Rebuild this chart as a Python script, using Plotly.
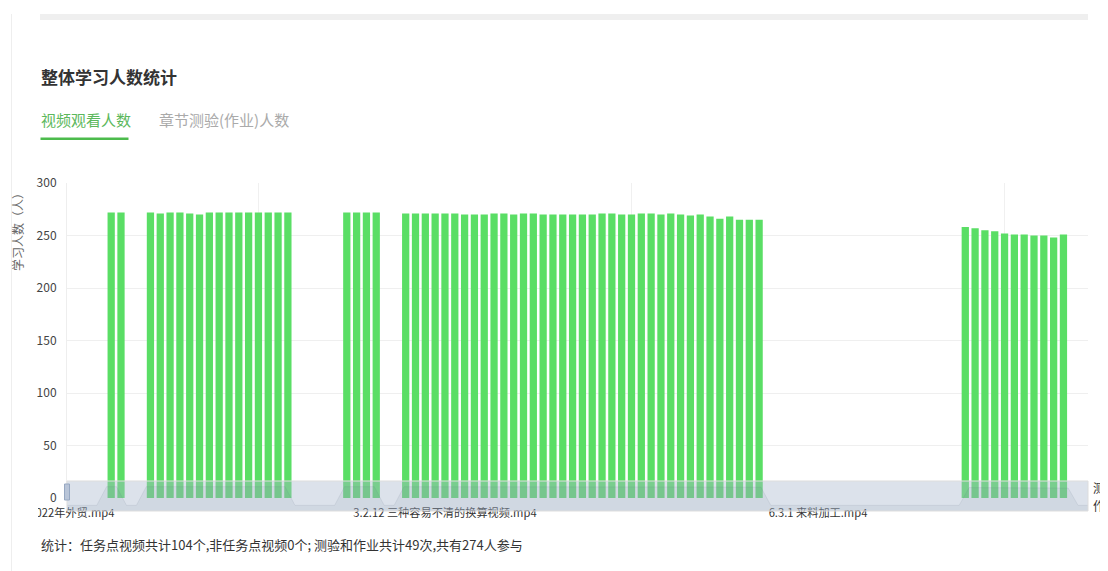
import plotly.graph_objects as go

# the page body adds an 8 px margin, so the figure is drawn 8 px smaller
# and every position below is given in window pixels
OFF = 8
W, H = 1108 - OFF, 571 - OFF


def fx(p):
    return (p - OFF) / W


def fy(p):
    return 1 - (p - OFF) / H


# ---------------- data ----------------
# number of learners who watched each task-point video (104 videos, in course order)
values = [
    0, 0, 0, 0,
    272, 272,
    0, 0,
    272, 271, 272, 272, 271, 270, 272, 272, 272, 272, 272, 272, 272, 272, 272,
    0, 0, 0, 0, 0,
    272, 272, 272, 272,
    0, 0,
    271, 271, 271, 271, 271, 271, 270, 270, 270, 271, 271, 270, 271, 271, 270,
    270, 270, 270, 270, 270, 271, 271, 270, 270, 271, 271, 270, 271, 270, 269,
    270, 268, 266, 268, 265, 265, 265,
    0, 0, 0, 0, 0, 0, 0, 0, 0, 0, 0, 0, 0, 0, 0, 0, 0, 0, 0, 0,
    258, 257, 255, 254, 252, 251, 251, 250, 250, 248, 251,
    0, 0,
]
video_pos = list(range(len(values)))

label_idx = [0, 38, 76]
label_text = ["2022年外贸.mp4", "3.2.12 三种容易不清的换算视频.mp4", "6.3.1 来料加工.mp4"]
grid_idx = [19, 57, 95]
y_ticks = [0, 50, 100, 150, 200, 250, 300]

FONT = "Noto Sans CJK SC"

# slider data-shadow extent (padded like the chart library does)
vmin, vmax = min(values), max(values)
pad = (vmax - vmin) * 0.3
shadow_lo, shadow_hi = vmin - pad, vmax + pad

fig = go.Figure()

fig.add_trace(go.Bar(
    x=video_pos, y=values,
    marker=dict(color="#5ade65", line=dict(width=0)),
    xaxis="x", yaxis="y",
    hoverinfo="x+y",
))

# data shadow inside the zoom slider
fig.add_trace(go.Scatter(
    x=[video_pos[0], video_pos[-1]], y=[shadow_lo, shadow_lo],
    mode="lines", line=dict(width=0, color="rgba(0,0,0,0)"),
    xaxis="x2", yaxis="y2", hoverinfo="skip", showlegend=False,
))
fig.add_trace(go.Scatter(
    x=video_pos, y=values,
    mode="lines", line=dict(width=0.5, color="rgba(47,69,84,0.25)"),
    fill="tonexty", fillcolor="rgba(47,69,84,0.09)",
    xaxis="x2", yaxis="y2", hoverinfo="skip", showlegend=False,
))

shapes = [
    # top light bar of the page
    dict(type="rect", xref="paper", yref="paper", x0=fx(40), x1=fx(1088), y0=fy(20), y1=fy(14),
         fillcolor="#efefef", line=dict(width=0), layer="below"),
    # tab underline
    dict(type="rect", xref="paper", yref="paper", x0=fx(40.5), x1=fx(128.5), y0=fy(140), y1=fy(137.5),
         fillcolor="#4cbb4c", line=dict(width=0)),
    # slider filler
    dict(type="rect", xref="paper", yref="paper", x0=fx(67), x1=fx(1088), y0=fy(511), y1=fy(481),
         fillcolor="rgba(167,183,204,0.4)", line=dict(color="#dddddd", width=1), layer="above"),
    # slider left handle
    dict(type="rect", xref="paper", yref="paper", x0=fx(64.5), x1=fx(69.5), y0=fy(500), y1=fy(484),
         fillcolor="#b9c5d8", line=dict(color="#97a8c2", width=1), layer="above"),
    # clip of the first axis label (container edge)
    dict(type="rect", xref="paper", yref="paper", x0=0, x1=fx(38), y0=fy(526), y1=fy(505),
         fillcolor="white", line=dict(width=0), layer="above"),
    # left page border
    dict(type="line", xref="paper", yref="paper", x0=fx(11.5), x1=fx(11.5), y0=0, y1=fy(14),
         line=dict(color="#eeeeee", width=1), layer="above"),
]

annotations = [
    dict(text="<b>整体学习人数统计</b>", x=fx(39), y=fy(76), xanchor="left", yanchor="middle",
         font=dict(size=17, color="#333333", family=FONT)),
    dict(text="视频观看人数", x=fx(39), y=fy(119), xanchor="left", yanchor="middle",
         font=dict(size=15, color="#5cb85c", family=FONT)),
    dict(text="章节测验(作业)人数", x=fx(157), y=fy(119), xanchor="left", yanchor="middle",
         font=dict(size=15, color="#aaaaaa", family=FONT)),
    dict(text="学习人数（人）", x=fx(18), y=fy(229), xanchor="center", yanchor="middle", textangle=-90,
         font=dict(size=12, color="#666666", family=FONT)),
    dict(text="统计：任务点视频共计104个,非任务点视频0个; 测验和作业共计49次,共有274人参与",
         x=fx(39), y=fy(544), xanchor="left", yanchor="middle",
         font=dict(size=13, color="#333333", family=FONT)),
    dict(text="测验", x=fx(1091), y=fy(487), xanchor="left", yanchor="middle",
         font=dict(size=12, color="#333333", family=FONT)),
    dict(text="作业", x=fx(1091), y=fy(505), xanchor="left", yanchor="middle",
         font=dict(size=12, color="#333333", family=FONT)),
]
for a in annotations:
    a.update(xref="paper", yref="paper", showarrow=False)

fig.update_layout(
    width=W, height=H,
    margin=dict(l=0, r=0, t=0, b=0, autoexpand=False),
    paper_bgcolor="white", plot_bgcolor="rgba(0,0,0,0)",
    showlegend=False, bargap=0.26,
    font=dict(family=FONT, size=12, color="#333333"),
    xaxis=dict(
        domain=[fx(67), fx(1088)], range=[-0.5, len(values) - 0.5], anchor="y",
        automargin=False,
        tickmode="array", tickvals=label_idx, ticktext=label_text,
        showgrid=False, zeroline=False, showline=False, ticks="",
        tickfont=dict(size=11.2, color="#333333"), ticklabelstandoff=7,
        minor=dict(tickmode="array", tickvals=grid_idx, showgrid=True,
                   gridcolor="#f0f0f0", gridwidth=1, ticks=""),
        fixedrange=True,
    ),
    yaxis=dict(
        domain=[fy(498), fy(183)], range=[0, 300], anchor="x",
        automargin=False,
        tickmode="array", tickvals=y_ticks,
        showgrid=True, gridcolor="#efefef", gridwidth=1,
        zeroline=False, showline=True, linecolor="#eeeeee", ticks="",
        tickfont=dict(size=12, color="#444444"), ticklabelstandoff=7,
        fixedrange=True,
    ),
    xaxis2=dict(domain=[fx(67), fx(1088)], range=[video_pos[0], video_pos[-1]], anchor="y2",
                visible=False, fixedrange=True, automargin=False),
    yaxis2=dict(domain=[fy(511), fy(481)], range=[shadow_lo, shadow_hi], anchor="x2",
                visible=False, fixedrange=True, automargin=False),
    shapes=shapes,
    annotations=annotations,
)

fig.write_html("out.html")
